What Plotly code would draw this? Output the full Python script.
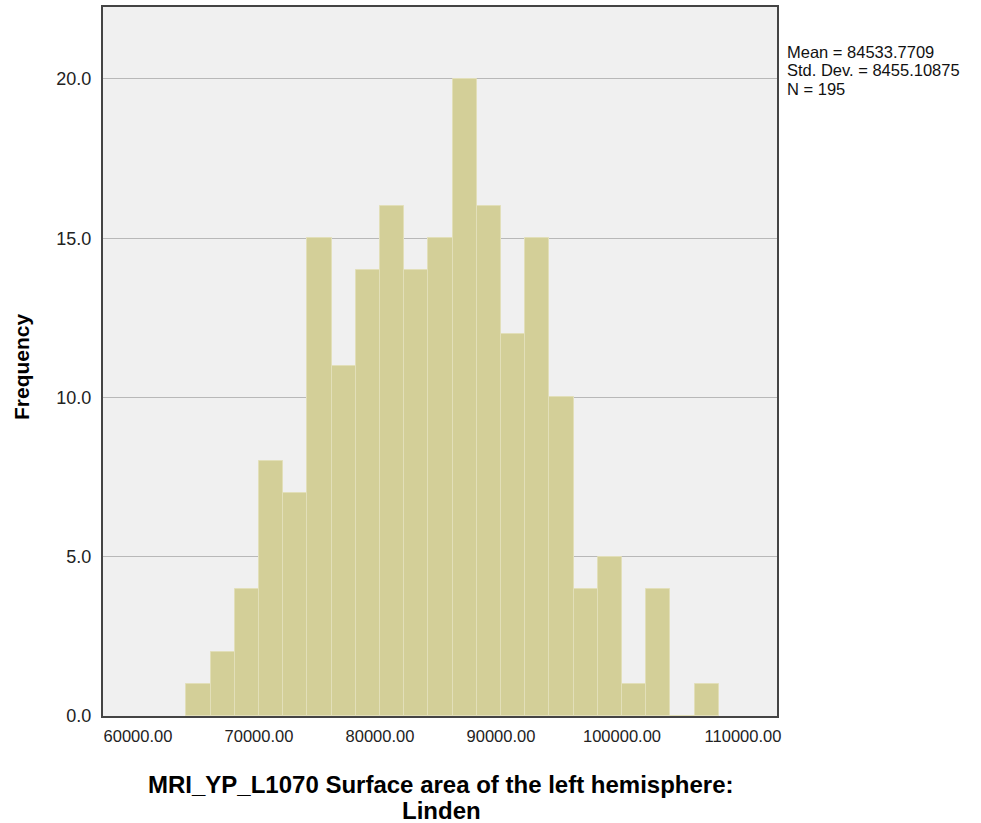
import plotly.graph_objects as go

bin_starts = [64000, 66000, 68000, 70000, 72000, 74000, 76000, 78000, 80000, 82000, 84000,
              86000, 88000, 90000, 92000, 94000, 96000, 98000, 100000, 102000, 104000, 106000]
counts = [1, 2, 4, 8, 7, 15, 11, 14, 16, 14, 15, 20, 16, 12, 15, 10, 4, 5, 1, 4, 0, 1]
bin_width = 2000
x_ticks = [60000, 70000, 80000, 90000, 100000, 110000]
y_ticks = [0, 5, 10, 15, 20]
stats_lines = ["Mean = 84533.7709", "Std. Dev. = 8455.10875", "N = 195"]
x_title = ["MRI_YP_L1070 Surface area of the left hemisphere:", "Linden"]
y_title = "Frequency"

centers = [s + bin_width / 2 for s in bin_starts]

fig = go.Figure()
fig.add_trace(go.Bar(
    x=centers, y=counts, width=bin_width,
    marker=dict(color="#d3cf98", line=dict(color="#e2dfb9", width=1)),
    hoverinfo="x+y",
))

FONT = "Liberation Sans, Arial, sans-serif"
NARROW = "Liberation Sans Narrow, Arial Narrow, Liberation Sans"
L, R, T, B = 103, 777, 7, 716
W, H = R - L, B - T


def px(xp):
    return (xp - L) / W


def py(yp):
    return (B - yp) / H


fig.update_layout(
    width=981, height=823,
    margin=dict(l=L, r=981 - R, t=T, b=823 - B, autoexpand=False),
    paper_bgcolor="white", plot_bgcolor="#f0f0f0",
    showlegend=False, bargap=0,
    font=dict(family=FONT, size=14, color="#222"),
    xaxis=dict(
        range=[57107, 112810], tickvals=x_ticks,
        ticktext=[f"{v:.2f}" for v in x_ticks],
        showgrid=False, zeroline=False, ticks="", ticklabelstandoff=4,
        showline=True, linecolor="#444", linewidth=2, mirror=True,
        tickfont=dict(size=16.5, family=NARROW, color="#222"),
    ),
    yaxis=dict(
        range=[0, 22.26], tickvals=y_ticks,
        ticktext=[f"{v:.1f}" for v in y_ticks],
        showgrid=True, gridcolor="#b8b8b8", gridwidth=1,
        zeroline=False, ticks="", ticklabelstandoff=6,
        showline=True, linecolor="#444", linewidth=2, mirror=True,
        tickfont=dict(size=18, family=FONT, color="#222"),
    ),
)

# y title
fig.add_annotation(
    xref="paper", yref="paper", x=px(21), y=py(367), xanchor="center", yanchor="middle",
    text="<b>" + y_title + "</b>", showarrow=False, textangle=-90,
    font=dict(size=21, family=FONT, color="black"),
)
# x title (two lines)
for line, yc in zip(x_title, [784, 810]):
    fig.add_annotation(
        xref="paper", yref="paper", x=px(441), y=py(yc), xanchor="center", yanchor="middle",
        text="<b>" + line + "</b>", showarrow=False, borderpad=0,
        font=dict(size=24, family=NARROW, color="black"),
    )
# stats
for line, yc in zip(stats_lines, [52, 70.5, 89]):
    fig.add_annotation(
        xref="paper", yref="paper", x=px(788), y=py(yc), xanchor="left", yanchor="middle",
        text=line, showarrow=False, align="left", xshift=-2, borderpad=0,
        font=dict(size=16.5, family=FONT, color="#111"),
    )

fig.write_html("out.html", config={"displayModeBar": False},
               post_script="document.body.style.margin='0px';")
